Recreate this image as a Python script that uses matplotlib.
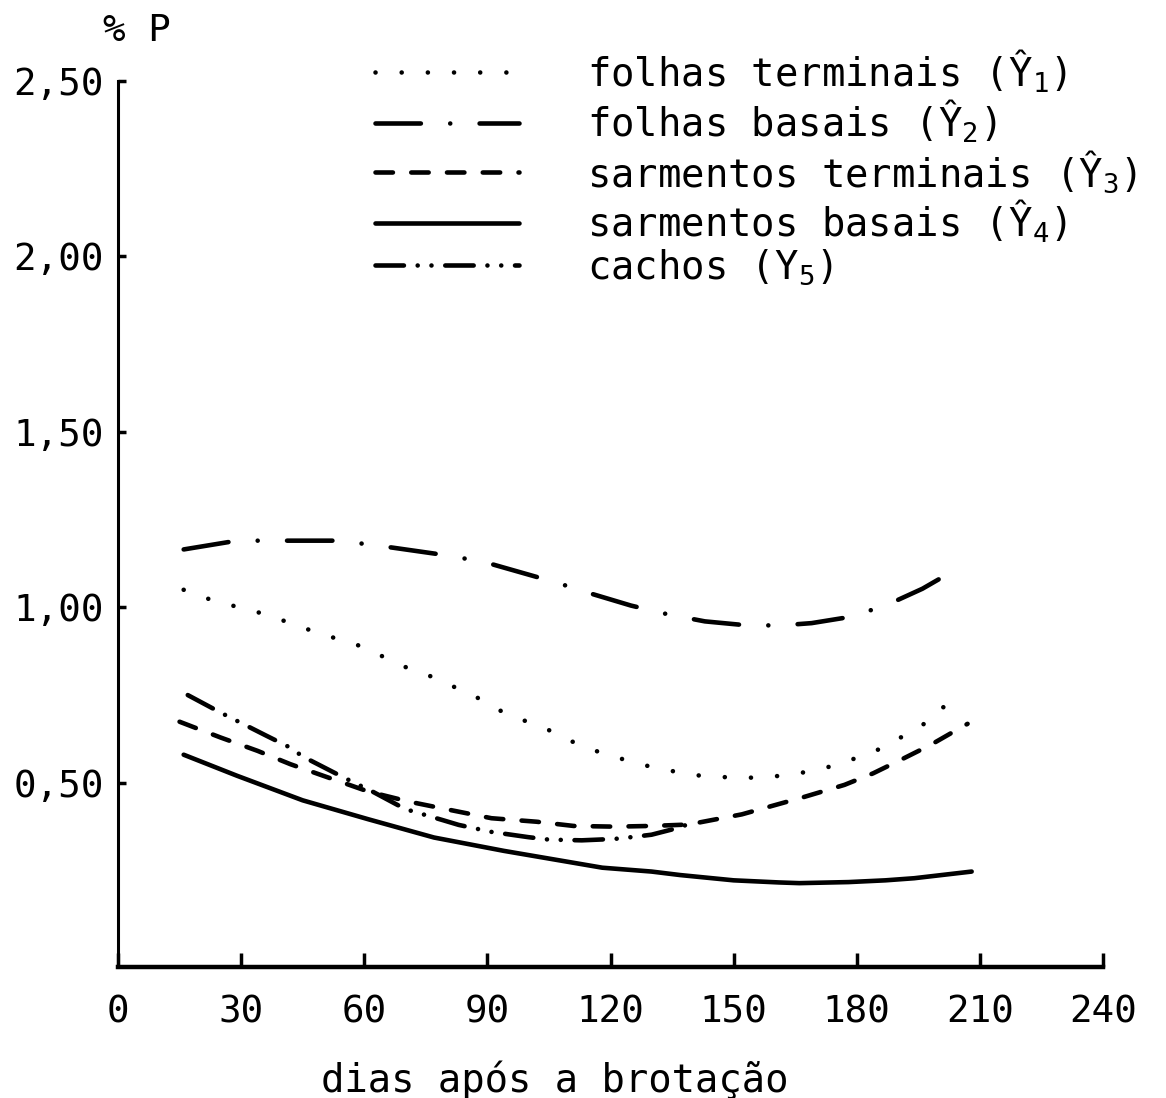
import matplotlib
matplotlib.use("Agg")
import matplotlib.pyplot as plt

plt.rcParams['font.family'] = ['DejaVu Sans Mono', 'DejaVu Sans']
plt.rcParams['mathtext.fontset'] = 'custom'
plt.rcParams['mathtext.rm'] = 'DejaVu Sans Mono'
plt.rcParams['mathtext.default'] = 'rm'

# folhas terminais (Y1)
dias_y1 = [16, 23, 36, 48, 59, 70, 77, 88, 94, 105, 112, 119, 130, 137, 142, 148,
           153, 159, 165, 172, 179, 186, 191, 197, 200, 205]
p_y1 = [1.05, 1.02, 0.98, 0.93, 0.89, 0.83, 0.80, 0.74, 0.70, 0.65, 0.61, 0.58,
        0.545, 0.529, 0.52, 0.516, 0.514, 0.517, 0.525, 0.541, 0.567, 0.598,
        0.631, 0.672, 0.707, 0.745]

# folhas basais (Y2)
dias_y2 = [16, 29, 41, 54, 67, 79, 89, 98, 107, 115, 125, 134, 143, 152, 161,
           169, 178, 187, 196, 200]
p_y2 = [1.165, 1.19, 1.19, 1.19, 1.17, 1.15, 1.13, 1.10, 1.07, 1.04, 1.005, 0.98,
        0.96, 0.95, 0.948, 0.955, 0.972, 1.005, 1.053, 1.08]

# sarmentos terminais (Y3)
dias_y3 = [15, 25, 34, 42, 50, 61, 71, 82, 91, 102, 111, 121, 130, 139, 152, 167,
           177, 184, 191, 198, 205, 207]
p_y3 = [0.674, 0.629, 0.591, 0.553, 0.52, 0.475, 0.446, 0.420, 0.399, 0.389,
        0.377, 0.375, 0.377, 0.381, 0.41, 0.459, 0.494, 0.527, 0.567, 0.608,
        0.655, 0.668]

# sarmentos basais (Y4)
dias_y4 = [16, 29, 45, 61, 77, 94, 106, 118, 130, 137, 150, 161, 166, 178, 187,
           194, 208]
p_y4 = [0.58, 0.52, 0.45, 0.396, 0.344, 0.306, 0.282, 0.258, 0.247, 0.237,
        0.222, 0.216, 0.214, 0.217, 0.222, 0.228, 0.247]

# cachos (Y5)
dias_y5 = [17, 25, 36, 42, 45, 50, 55, 62, 70, 79, 83, 91, 100, 105, 113, 121,
           125, 130, 136, 141]
p_y5 = [0.75, 0.70, 0.635, 0.60, 0.575, 0.545, 0.515, 0.475, 0.425, 0.394, 0.38,
        0.36, 0.345, 0.338, 0.336, 0.34, 0.345, 0.352, 0.37, 0.39]

rotulos = ['folhas terminais (Ŷ$_1$)', 'folhas basais (Ŷ$_2$)',
           'sarmentos terminais (Ŷ$_3$)', 'sarmentos basais (Ŷ$_4$)',
           'cachos (Y$_5$)']

x_ticks = [0, 30, 60, 90, 120, 150, 180, 210, 240]
y_ticks = [0.5, 1.0, 1.5, 2.0, 2.5]
y_ticklabels = ['0,50', '1,00', '1,50', '2,00', '2,50']

# tracejados (em unidades da espessura da linha)
estilos = [
    (0, (0.01, 5.7)),
    (0, (9.9, 6.4, 0.01, 6.4)),
    (0, (3.8, 4.0)),
    '-',
    (0, (6.2, 3.0, 0.01, 3.0, 0.01, 3.0)),
]

fig = plt.figure(figsize=(11.66, 10.98), dpi=100)
ax = fig.add_axes([118 / 1166, 1 - 967 / 1098, (1103 - 118) / 1166, (967 - 81) / 1098])

series = [(dias_y1, p_y1), (dias_y2, p_y2), (dias_y3, p_y3), (dias_y4, p_y4), (dias_y5, p_y5)]
handles = []
for (xs, ys), ls, lab in zip(series, estilos, rotulos):
    ln, = ax.plot(xs, ys, color='black', lw=3.3, linestyle=ls,
                  dash_capstyle='round', solid_capstyle='round', label=lab)
    handles.append(ln)

ax.set_xlim(0, 240)
ax.set_ylim(-0.025, 2.5)
ax.set_xticks(x_ticks)
ax.set_yticks(y_ticks)
ax.set_yticklabels(y_ticklabels)

for s in ['top', 'right']:
    ax.spines[s].set_visible(False)
ax.spines['left'].set_linewidth(2.2)
ax.spines['bottom'].set_linewidth(3.2)

ax.tick_params(axis='x', direction='in', length=10, width=2.5, labelsize=27, pad=20)
ax.tick_params(axis='y', direction='in', length=6, width=2.5, labelsize=27, pad=10)

ax.set_xlabel('dias após a brotação', fontsize=28)
ax.xaxis.set_label_coords(0.443, -0.105)

fig.text(137 / 1166, 1 - 31 / 1098, '% P', fontsize=27, ha='center', va='center')

ax.legend(handles=handles, loc='upper left',
          bbox_to_anchor=(375 / 1166, 1 - 47 / 1098), bbox_transform=fig.transFigure,
          frameon=False, fontsize=28, handlelength=3.7, handletextpad=1.75,
          labelspacing=0.07, borderpad=0, borderaxespad=0)

fig.savefig('out.png', dpi=100)
